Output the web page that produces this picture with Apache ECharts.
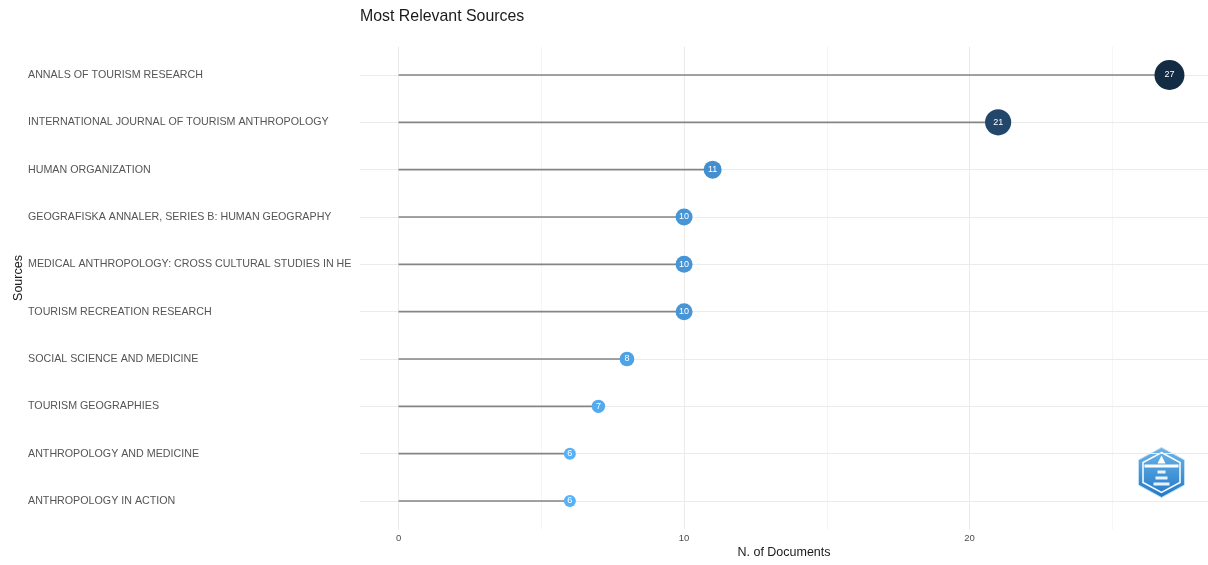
<!DOCTYPE html>
<html>
<head>
<meta charset="utf-8">
<script src="https://cdn.jsdelivr.net/npm/echarts@6/dist/echarts.min.js"></script>
<style>
html,body{margin:0;padding:0;background:#fff;}
#chart{width:1208px;height:565px;}
</style>
</head>
<body>
<div id="chart"></div>
<script>
const sources = [
  "ANNALS OF TOURISM RESEARCH",
  "INTERNATIONAL JOURNAL OF TOURISM ANTHROPOLOGY",
  "HUMAN ORGANIZATION",
  "GEOGRAFISKA ANNALER, SERIES B: HUMAN GEOGRAPHY",
  "MEDICAL ANTHROPOLOGY: CROSS CULTURAL STUDIES IN HE",
  "TOURISM RECREATION RESEARCH",
  "SOCIAL SCIENCE AND MEDICINE",
  "TOURISM GEOGRAPHIES",
  "ANTHROPOLOGY AND MEDICINE",
  "ANTHROPOLOGY IN ACTION"
];
const documents = [27, 21, 11, 10, 10, 10, 8, 7, 6, 6];
const xTickLabels = [0, 10, 20];
const xMinorGrid = [5, 15, 25];

const rowIdx = sources.map((s, i) => i);
const vMin = Math.min(...documents), vMax = Math.max(...documents);
function dotSize(v) {
  const r = (v - vMin) / (vMax - vMin);
  const dMin = 12, dMax = 30;
  return Math.sqrt(r * (dMax * dMax - dMin * dMin) + dMin * dMin);
}

const FONT = '"Liberation Sans", Arial, sans-serif';
const chart = echarts.init(document.getElementById('chart'), null, {renderer: 'canvas'});

const gridColor = '#ebebeb';
const minorColor = '#f5f5f5';

const option = {
  backgroundColor: '#ffffff',
  animation: false,
  title: {
    text: 'Most Relevant Sources',
    left: 355, top: 4,
    textStyle: {fontFamily: FONT, fontSize: 15.9, fontWeight: 'normal', color: '#1a1a1a'}
  },
  grid: {left: 360, right: 0, top: 46.6, bottom: 35.6, containLabel: false, outerBoundsMode: 'none'},
  xAxis: {
    type: 'value',
    min: -1.35, max: 28.35,
    name: 'N. of Documents',
    nameLocation: 'middle',
    nameGap: 17,
    nameMoveOverlap: false,
    nameTextStyle: {fontFamily: FONT, fontSize: 12.5, color: '#1a1a1a'},
    axisLine: {show: false},
    axisTick: {show: false},
    splitLine: {show: false},
    axisLabel: {
      customValues: xTickLabels,
      fontFamily: FONT, fontSize: 9.5, color: '#4d4d4d', margin: 4
    }
  },
  yAxis: {
    type: 'value',
    min: -0.6, max: sources.length - 1 + 0.6,
    inverse: true,
    name: 'Sources',
    nameLocation: 'middle',
    nameGap: 335,
    nameRotate: 90,
    nameMoveOverlap: false,
    nameTextStyle: {fontFamily: FONT, fontSize: 12.5, color: '#1a1a1a', padding: [0, 0, 0, 20]},
    axisLine: {show: false},
    axisTick: {show: false},
    splitLine: {show: false},
    axisLabel: {
      customValues: rowIdx,
      formatter: v => sources[Math.round(v)] || '',
      align: 'left', margin: 332,
      fontFamily: FONT, fontSize: 10.7, color: '#555555'
    }
  },
  visualMap: {
    show: false,
    type: 'continuous',
    seriesIndex: 2,
    dimension: 0,
    min: vMin, max: vMax,
    inRange: {color: ['#56B1F7', '#3a80bd', '#244c71', '#132B43']}
  },
  series: [
    {
      type: 'scatter',
      data: [],
      silent: true,
      z: 0,
      markLine: {
        silent: true,
        z: 0,
        symbol: ['none', 'none'],
        label: {show: false},
        emphasis: {disabled: true},
        animation: false,
        data: [
          ...xMinorGrid.map(v => ({xAxis: v, lineStyle: {color: minorColor, width: 1, type: 'solid'}})),
          ...xTickLabels.map(v => ({xAxis: v, lineStyle: {color: gridColor, width: 1, type: 'solid'}})),
          ...rowIdx.map(i => ({yAxis: i, lineStyle: {color: gridColor, width: 1, type: 'solid'}}))
        ]
      }
    },
    {
      type: 'custom',
      silent: true,
      z: 2,
      data: documents.map((v, i) => [v, i]),
      renderItem: (params, api) => {
        const p0 = api.coord([0, api.value(1)]);
        const p1 = api.coord([api.value(0), api.value(1)]);
        return {
          type: 'line',
          shape: {x1: p0[0], y1: p0[1], x2: p1[0], y2: p1[1]},
          style: {stroke: '#858585', lineWidth: 1.6}
        };
      }
    },
    {
      type: 'scatter',
      data: documents.map((v, i) => [v, i]),
      symbolSize: d => dotSize(d[0]),
      z: 3,
      label: {
        show: true,
        position: 'inside',
        formatter: p => p.value[0],
        color: '#ffffff',
        fontFamily: FONT,
        fontSize: 9
      },
      itemStyle: {opacity: 1}
    }
  ],
  graphic: [
    {
      type: 'group',
      left: 1138, top: 447,
      children: [
        {
          type: 'polygon',
          shape: {points: [[23,0],[46,12.5],[46,37.5],[23,50],[0,37.5],[0,12.5]]},
          style: {
            fill: new echarts.graphic.LinearGradient(0, 0, 0, 1, [
              {offset: 0, color: '#6fb6e8'}, {offset: 1, color: '#1f78c8'}
            ]),
            stroke: '#bfe0f7', lineWidth: 1
          }
        },
        {
          type: 'polygon',
          shape: {points: [[23,5],[41.5,15],[41.5,35],[23,45],[4.5,35],[4.5,15]]},
          style: {fill: 'none', stroke: '#ffffff', lineWidth: 1.5}
        },
        {type: 'rect', shape: {x: 6, y: 17, width: 34, height: 3}, style: {fill: '#ffffff'}},
        {type: 'polygon', shape: {points: [[23,8],[27,16],[19,16]]}, style: {fill: '#ffffff'}},
        {type: 'rect', shape: {x: 19, y: 23, width: 8, height: 3}, style: {fill: '#e8f4fd'}},
        {type: 'rect', shape: {x: 17, y: 29, width: 12, height: 3}, style: {fill: '#e8f4fd'}},
        {type: 'rect', shape: {x: 15, y: 35, width: 16, height: 3}, style: {fill: '#e8f4fd'}}
      ]
    }
  ]
};
chart.setOption(option);
</script>
</body>
</html>
